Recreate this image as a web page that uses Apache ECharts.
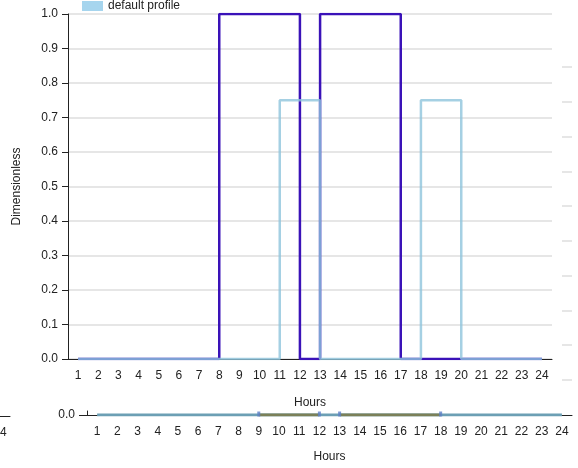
<!DOCTYPE html>
<html>
<head>
<meta charset="utf-8">
<script src="https://cdn.jsdelivr.net/npm/echarts@6/dist/echarts.min.js"></script>
<style>
  html, body { margin: 0; padding: 0; background: #fff; }
  #chart { width: 578px; height: 468px; }
</style>
</head>
<body>
<div id="chart"></div>
<script>
// hours of the day
const hours = ["1","2","3","4","5","6","7","8","9","10","11","12","13","14","15","16","17","18","19","20","21","22","23","24"];
// main profile series (step)
const purpleProfile = [0,0,0,0,0,0,0,1,1,1,1,0,1,1,1,1,0,0,0,0,0,0,0,0];
const defaultProfile = [0,0,0,0,0,0,0,0,0,0,0.75,0.75,0,0,0,0,0,0.75,0.75,0,0,0,0,0];
// overview strip
const overviewBase = [0,0,0,0,0,0,0,0,0,0,0,0,0,0,0,0,0,0,0,0,0,0,0,0];
const overviewActiveA = [null,null,null,null,null,null,null,null,0,0,0,0,null,null,null,null,null,null,null,null,null,null,null,null];
const overviewActiveB = [null,null,null,null,null,null,null,null,null,null,null,null,0,0,0,0,0,0,null,null,null,null,null,null];
const overviewMarks = [["9",0],["12",0],["13",0],["18",0]];

const chart = echarts.init(document.getElementById("chart"));
const font = "Liberation Sans, Arial, sans-serif";
const axisColor = "#222";

const option = {
  animation: false,
  textStyle: { fontFamily: font },
  legend: {
    left: 82,
    top: 0,
    padding: 0,
    itemWidth: 21,
    itemHeight: 10,
    itemGap: 6,
    icon: "rect",
    textStyle: { fontSize: 12, color: "#222", fontFamily: font },
    data: [{ name: "default profile", itemStyle: { color: "#a6d5ee" } }],
  },
  grid: [
    { left: 68, right: 26, top: 14, bottom: 109, outerBoundsMode: "none" },
    { left: 87, right: 6, top: 411, height: 4, outerBoundsMode: "none" },
    { left: -475, width: 485, top: 400, height: 16, outerBoundsMode: "none" },
    { left: 562, width: 10, top: 67, height: 313, outerBoundsMode: "none" },
  ],
  xAxis: [
    {
      gridIndex: 0,
      type: "category",
      data: hours,
      boundaryGap: true,
      name: "Hours",
      nameLocation: "middle",
      nameGap: 38,
      nameTextStyle: { fontSize: 12, color: "#222" },
      axisLine: { lineStyle: { color: axisColor } },
      axisTick: { length: 6, lineStyle: { color: axisColor } },
      axisLabel: { fontSize: 12, color: "#222", margin: 11, interval: 0 },
      splitLine: { show: false },
    },
    {
      gridIndex: 1,
      type: "category",
      data: hours,
      boundaryGap: true,
      name: "Hours",
      nameLocation: "middle",
      nameGap: 36,
      nameTextStyle: { fontSize: 12, color: "#222" },
      axisLine: { lineStyle: { color: axisColor } },
      axisTick: { length: 6, lineStyle: { color: axisColor } },
      axisLabel: { fontSize: 12, color: "#222", margin: 11, interval: 0 },
      splitLine: { show: false },
    },
    {
      gridIndex: 2,
      type: "category",
      data: hours,
      boundaryGap: true,
      axisLine: { lineStyle: { color: axisColor } },
      axisTick: { length: 6, lineStyle: { color: axisColor } },
      axisLabel: { fontSize: 12, color: "#222", margin: 11, interval: 0 },
      splitLine: { show: false },
    },
    {
      gridIndex: 3,
      type: "category",
      data: hours,
      show: false,
    },
  ],
  yAxis: [
    {
      gridIndex: 0,
      type: "value",
      min: 0,
      max: 1,
      interval: 0.1,
      name: "Dimensionless",
      nameLocation: "middle",
      nameGap: 45,
      nameTextStyle: { fontSize: 12, color: "#222" },
      axisLine: { show: true, lineStyle: { color: axisColor } },
      axisTick: { show: true, length: 6, lineStyle: { color: axisColor } },
      axisLabel: {
        fontSize: 12,
        color: "#222",
        margin: 10,
        formatter: (v) => v.toFixed(1),
      },
      splitLine: { show: true, lineStyle: { color: "#e6e6e6", width: 2 } },
    },
    {
      gridIndex: 1,
      type: "value",
      min: 0,
      max: 1,
      interval: 1,
      axisLine: { show: true, lineStyle: { color: axisColor } },
      axisTick: { show: true, length: 8, customValues: [0], lineStyle: { color: axisColor } },
      axisLabel: {
        fontSize: 12,
        color: "#222",
        margin: 12,
        customValues: [0],
        formatter: (v) => v.toFixed(1),
      },
      splitLine: { show: false },
    },
    {
      gridIndex: 2,
      type: "value",
      show: false,
    },
    {
      gridIndex: 3,
      type: "value",
      min: 0,
      max: 9,
      interval: 1,
      axisLine: { show: false },
      axisTick: { show: false },
      axisLabel: { show: false },
      splitLine: { show: true, lineStyle: { color: "#e6e6e6", width: 2 } },
    },
  ],
  series: [
    {
      name: "profile",
      type: "line",
      xAxisIndex: 0,
      yAxisIndex: 0,
      step: "end",
      data: purpleProfile,
      showSymbol: false,
      lineStyle: { color: "#3a12b8", width: 2.5 },
      itemStyle: { color: "#3a12b8" },
      z: 3,
    },
    {
      name: "default profile",
      type: "line",
      xAxisIndex: 0,
      yAxisIndex: 0,
      step: "end",
      data: defaultProfile,
      showSymbol: false,
      lineStyle: { color: "#8fc4dc", width: 2.5, opacity: 0.8 },
      itemStyle: { color: "#a6d5ee" },
      z: 4,
    },
    {
      name: "overview base",
      type: "line",
      xAxisIndex: 1,
      yAxisIndex: 1,
      data: overviewBase,
      showSymbol: false,
      lineStyle: { color: "#6c9fb4", width: 3 },
      z: 3,
    },
    {
      name: "overview active a",
      type: "line",
      xAxisIndex: 1,
      yAxisIndex: 1,
      data: overviewActiveA,
      showSymbol: false,
      lineStyle: { color: "#7b8058", width: 3 },
      z: 4,
    },
    {
      name: "overview active b",
      type: "line",
      xAxisIndex: 1,
      yAxisIndex: 1,
      data: overviewActiveB,
      showSymbol: false,
      lineStyle: { color: "#7b8058", width: 3 },
      z: 4,
    },
    {
      name: "overview marks",
      type: "scatter",
      xAxisIndex: 1,
      yAxisIndex: 1,
      data: overviewMarks,
      symbol: "rect",
      symbolSize: [3, 5],
      symbolOffset: [0, -1],
      itemStyle: { color: "#5d7fc8" },
      z: 5,
    },
  ],
};

chart.setOption(option);
</script>
</body>
</html>
